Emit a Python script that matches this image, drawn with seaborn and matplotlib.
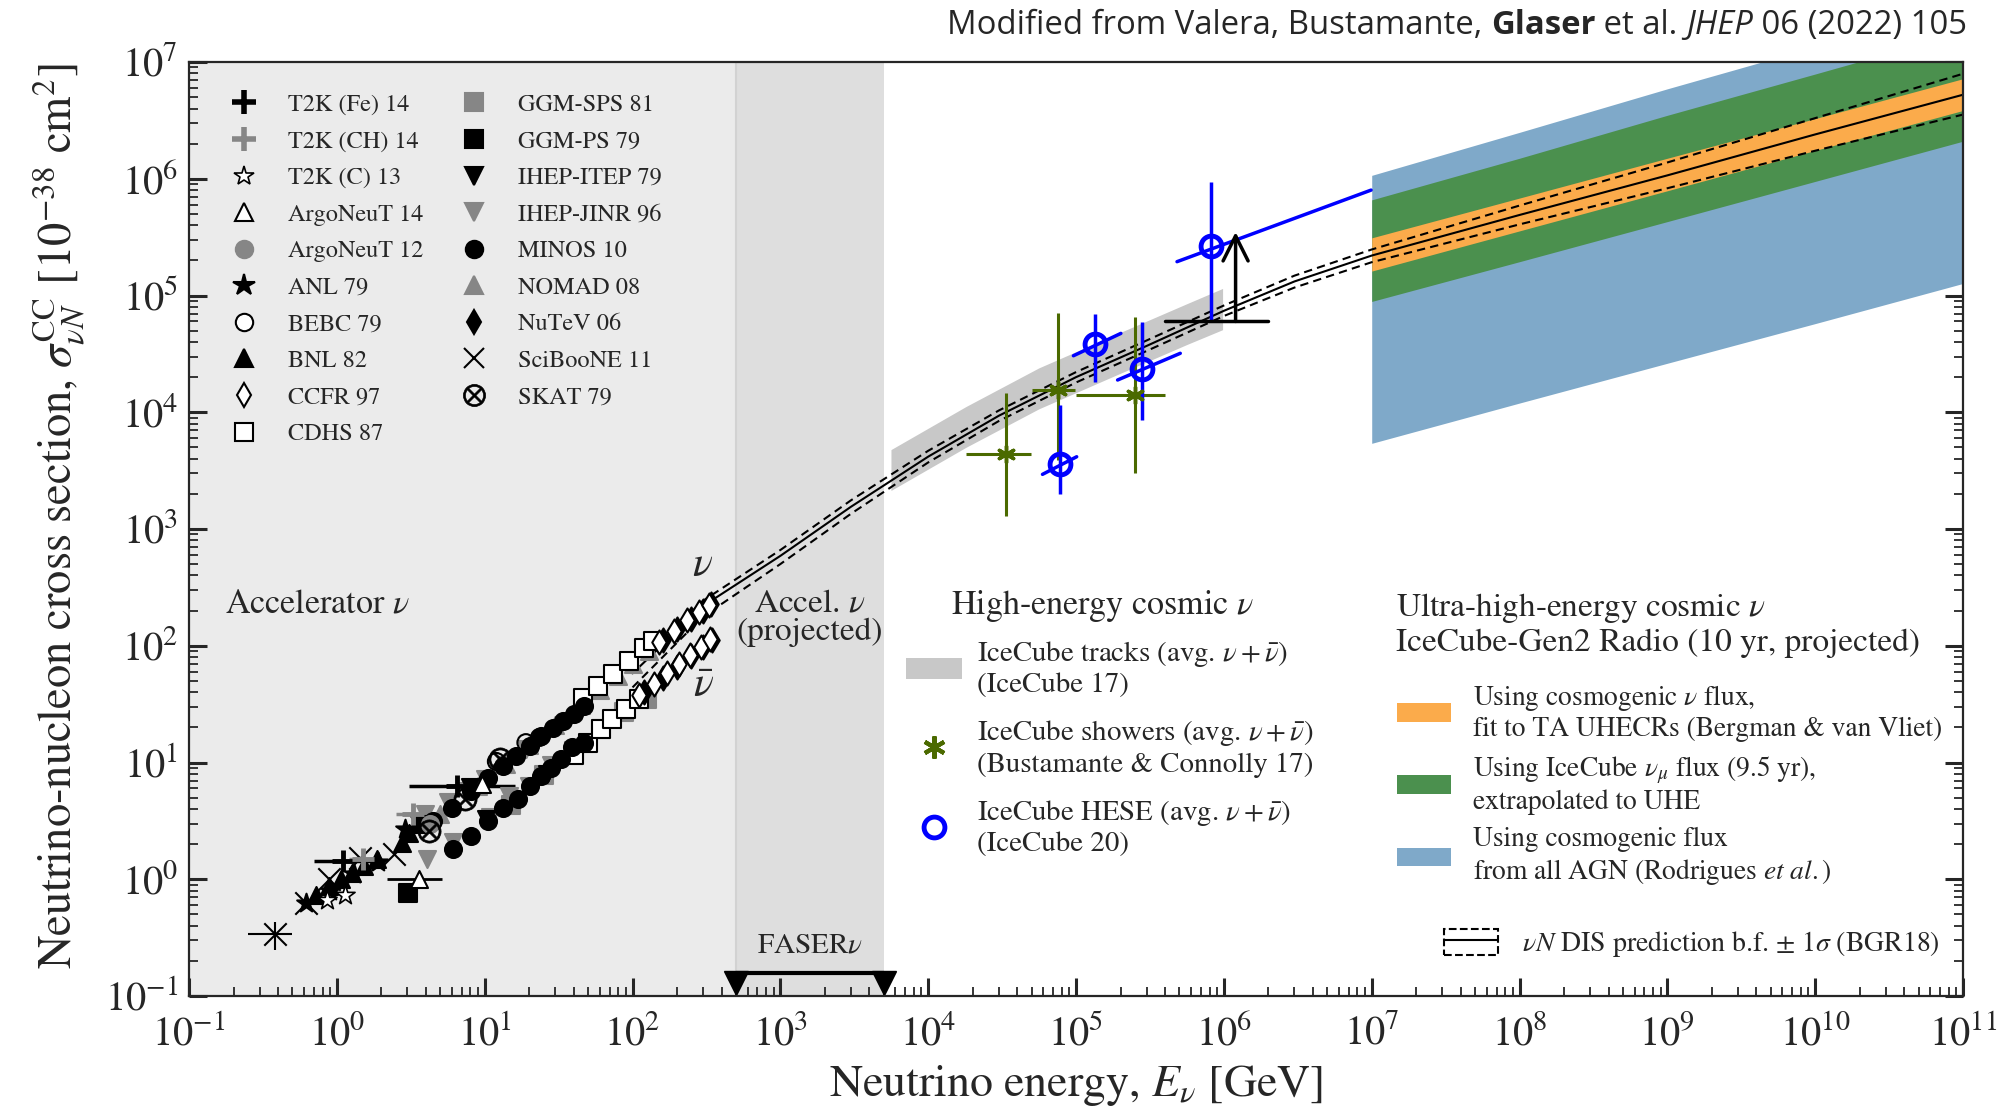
import numpy as np
import matplotlib
matplotlib.use('Agg')
import matplotlib.pyplot as plt
from matplotlib.lines import Line2D
from matplotlib.patches import Patch, Rectangle
from matplotlib.text import Annotation
from matplotlib.ticker import LogLocator
import seaborn as sns

sns.set_style('ticks')
plt.rcParams['font.family'] = ['STIXGeneral', 'DejaVu Serif']
plt.rcParams['mathtext.fontset'] = 'stix'

# ---------------- data: E [GeV], sigma [1e-38 cm^2] ----------------
# accelerator measurements (nu branch and nubar branch)
t2k_fe_E = [1.1, 6.5]
t2k_fe_s = [1.44, 6.3]
t2k_fe_xlo = [0.7, 3.1]
t2k_fe_xhi = [1.7, 16.0]
t2k_ch_E = [1.5, 3.3]
t2k_ch_s = [1.5, 3.6]
t2k_ch_xlo = [1.2, 2.5]
t2k_ch_xhi = [1.9, 4.4]
t2k_c_E = [0.86, 1.13]
t2k_c_s = [0.67, 0.74]
argo14_E = [3.6, 9.6]
argo14_s = [1.0, 6.6]
argo12_E = [4.3]
argo12_s = [3.0]
anl_E = [0.62, 0.9, 1.3, 1.9, 2.9]
anl_s = [0.63, 0.8, 1.1, 1.4, 2.7]
bebc_E = [12.0, 19.0, 23.5]
bebc_s = [10.2, 14.8, 16.4]
bnl_E = [0.72, 0.89, 1.06, 1.27, 1.52, 1.87, 2.75, 3.1, 3.5]
bnl_s = [0.74, 0.88, 1.0, 1.14, 1.3, 1.48, 2.06, 2.5, 2.96]
ccfr_E = [150, 190, 235, 280, 330, 110, 140, 170, 205, 245, 290, 335]
ccfr_s = [108, 135, 165, 195, 225, 38, 47, 58, 70, 84, 98, 114]
cdhs_E = [46, 58, 74, 95, 120, 138, 40, 50, 61, 73, 90, 110]
cdhs_s = [36, 45, 57, 74, 95, 110, 11.5, 14.8, 19.5, 23.5, 28.5, 35]
ggm_sps_E = [61, 87, 125, 15, 25, 40]
ggm_sps_s = [19.5, 27, 35, 4.3, 7.8, 12.5]
ggm_ps_E = [3.05]
ggm_ps_s = [0.77]
ihep_itep_E = [3.6, 8.0, 10.2, 26.5]
ihep_itep_s = [3.0, 6.2, 3.3, 8.0]
ihep_jinr_E = [3.94, 5.63, 7.6, 10.0, 14.0, 19.0, 4.06, 6.15, 10.8, 14.6, 20.0, 28.0]
ihep_jinr_s = [3.6, 4.6, 5.7, 7.2, 9.5, 13.0, 1.48, 2.1, 3.4, 5.2, 6.3, 9.5]
minos_E = [4.44, 5.97, 8.05, 10.5, 13.3, 16.4, 20.3, 24.2, 29.0, 33.7, 40.2, 46.7,
           6.15, 8.05, 10.5, 13.3, 16.9, 20.3, 24.2, 28.1, 32.7, 39.0, 46.7]
minos_s = [3.16, 4.11, 5.71, 7.43, 9.35, 11.4, 13.9, 16.9, 19.9, 22.8, 25.9, 30.6,
           1.81, 2.35, 3.16, 4.11, 4.85, 6.31, 7.69, 9.06, 10.7, 13.5, 14.8]
nomad_E = [5.0, 9.0, 14.0, 20.0, 30.0, 45.0, 60.0, 80.0, 100.0, 130.0]
nomad_s = [3.6, 6.3, 9.8, 14.0, 21.0, 31.0, 42.0, 55.0, 70.0, 90.0]
nutev_E = [160, 200, 250, 300, 340, 120, 160, 200, 250, 300, 345]
nutev_s = [112, 140, 170, 200, 228, 40, 53, 66, 82, 98, 112]
sciboone_E = [0.38, 0.62, 0.89, 1.43, 2.45]
sciboone_s = [0.34, 0.63, 1.0, 1.53, 1.64]
skat_E = [4.17, 7.4, 12.6]
skat_s = [2.6, 4.85, 10.7]

# BGR18 DIS prediction (best fit and 1 sigma)
dis_E = [1e2, 3e2, 1e3, 3e3, 1e4, 3e4, 1e5, 3e5, 1e6, 3e6, 1e7, 1e8, 1e9, 1e10, 1e11]
dis_mid = [58, 219, 589, 1550, 4170, 9330, 2.0e4, 3.7e4, 7.4e4, 1.32e5, 2.2e5, 4.9e5, 1.07e6, 2.4e6, 5.25e6]
dis_hi = [63, 243, 661, 1760, 4680, 1.035e4, 2.21e4, 4.12e4, 8.22e4, 1.48e5, 2.48e5, 5.9e5, 1.38e6, 3.31e6, 7.94e6]
dis_lo = [44, 178, 501, 1350, 3720, 8410, 1.8e4, 3.35e4, 6.68e4, 1.17e5, 1.93e5, 4.07e5, 8.3e5, 1.74e6, 3.55e6]

# IceCube tracks (band)
tracks_E = [5600, 1.8e4, 5.6e4, 1.8e5, 5.6e5, 9.8e5]
tracks_lo = [2140, 5010, 1.07e4, 2.04e4, 3.8e4, 5.1e4]
tracks_hi = [4790, 1.12e4, 2.4e4, 4.57e4, 8.5e4, 1.15e5]

# IceCube showers
shw_E = [3.37e4, 7.5e4, 2.5e5]
shw_s = [4.37e3, 1.55e4, 1.4e4]
shw_xlo = [1.79e4, 5.0e4, 1.0e5]
shw_xhi = [4.94e4, 9.9e4, 4.0e5]
shw_ylo = [1.29e3, 3.9e3, 3.0e3]
shw_yhi = [1.45e4, 7.1e4, 6.5e4]

# IceCube HESE (slanted energy error bars)
hese_E = [7.8e4, 1.35e5, 2.8e5, 8.2e5]
hese_s = [3.6e3, 3.85e4, 2.35e4, 2.65e5]
hese_ylo = [1.98e3, 1.83e4, 8.6e3, 6.2e4]
hese_yhi = [1.15e4, 6.9e4, 5.9e4, 9.3e5]
hese_xE_lo = [5.93e4, 9.6e4, 1.91e5, 4.82e5]
hese_xs_lo = [2.94e3, 3.05e4, 1.89e4, 1.95e5]
hese_xE_hi = [1.01e5, 2.01e5, 5.07e5, 9.9e6]
hese_xs_hi = [4.16e3, 4.74e4, 3.2e4, 8.0e5]

# lower limit
lim_E = [4.0e5, 1.98e6]
lim_s = 6.0e4
lim_arrow_E = 1.2e6
lim_arrow_top = 3.5e5

# IceCube-Gen2 radio projections
uhe_E = [1e7, 1e8, 1e9, 1e10, 1e11]
blue_lo = [5420, 1.2e4, 2.63e4, 5.75e4, 1.27e5]
blue_hi = [1.07e6, 2.5e6, 5.9e6, 1.35e7, 3.2e7]
green_lo = [8.9e4, 1.95e5, 4.3e5, 9.5e5, 2.1e6]
green_hi = [6.6e5, 1.5e6, 3.5e6, 7.9e6, 1.8e7]
orange_lo = [1.62e5, 3.58e5, 7.9e5, 1.75e6, 3.85e6]
orange_hi = [3.12e5, 6.84e5, 1.5e6, 3.28e6, 7.2e6]

faser_E = [500, 5000]

# ---------------- figure ----------------
fig = plt.figure(figsize=(20.16, 11.10), dpi=100)
ax = fig.add_axes([0.09375, 0.1027, 0.88, 0.8414])
ax.set_xscale('log')
ax.set_yscale('log')
ax.set_xlim(1e-1, 1e11)
ax.set_ylim(1e-1, 1e7)

ax.axvspan(1e-1, 500, color='#ebebeb', lw=0, zorder=0)
ax.axvspan(500, 5000, color='#dedede', lw=0, zorder=0)
ax.axvline(500, color='#d2d2d2', lw=1.5, zorder=0)

# UHE bands
ax.fill_between(uhe_E, blue_lo, blue_hi, color='#7fa9c9', lw=0, zorder=1)
ax.fill_between(uhe_E, green_lo, green_hi, color='#4b904e', lw=0, zorder=1)
ax.fill_between(uhe_E, orange_lo, orange_hi, color='#fbab4b', lw=0, zorder=1)
ax.fill_between(tracks_E, tracks_lo, tracks_hi, color='#c8c8c8', lw=0, zorder=1)

# DIS prediction
sns.lineplot(x=dis_E, y=dis_mid, color='black', lw=1.5, ax=ax, zorder=3)
sns.lineplot(x=dis_E, y=dis_hi, color='black', lw=1.5, linestyle=(0, (4, 2.5)), ax=ax, zorder=3)
sns.lineplot(x=dis_E, y=dis_lo, color='black', lw=1.5, linestyle=(0, (4, 2.5)), ax=ax, zorder=3)

# accelerator data
MS = 150
GREY = '#868686'
ax.errorbar(t2k_fe_E, t2k_fe_s, xerr=[np.subtract(t2k_fe_E, t2k_fe_xlo), np.subtract(t2k_fe_xhi, t2k_fe_E)],
            fmt='none', ecolor='black', elinewidth=2.5, zorder=4)
ax.errorbar(t2k_ch_E, t2k_ch_s, xerr=[np.subtract(t2k_ch_E, t2k_ch_xlo), np.subtract(t2k_ch_xhi, t2k_ch_E)],
            fmt='none', ecolor=GREY, elinewidth=2.5, zorder=4)
ax.errorbar([0.38], [0.34], xerr=[[0.13], [0.12]], yerr=[[0.09], [0.09]],
            fmt='none', ecolor='black', elinewidth=1.5, zorder=4)
ax.errorbar([3.6], [1.0], xerr=[[1.43], [1.55]], fmt='none', ecolor='black', elinewidth=2, zorder=4)


def dots(E, s, marker, face, edge='black', size=MS, lw=1.5):
    sns.scatterplot(x=E, y=s, marker=marker, color=face, edgecolor=edge, s=size,
                    linewidth=lw, ax=ax, zorder=5, legend=False)


dots(nomad_E, nomad_s, '^', GREY, GREY)
dots(ihep_jinr_E, ihep_jinr_s, 'v', GREY, GREY)
dots(ggm_sps_E, ggm_sps_s, 's', GREY, GREY)
dots(cdhs_E, cdhs_s, 's', 'white')
dots(nutev_E, nutev_s, 'd', 'black')
dots(ccfr_E, ccfr_s, 'd', 'white')
dots(minos_E, minos_s, 'o', 'black')
dots(ihep_itep_E, ihep_itep_s, 'v', 'black')
dots(ggm_ps_E, ggm_ps_s, 's', 'black')
dots(bnl_E, bnl_s, '^', 'black')
dots(anl_E, anl_s, '*', 'black', size=200)
dots(bebc_E, bebc_s, 'o', 'none')
dots(argo12_E, argo12_s, 'o', GREY, GREY)
dots(argo14_E, argo14_s, '^', 'white')
dots(t2k_c_E, t2k_c_s, '*', 'white', size=210, lw=1.2)
dots(skat_E, skat_s, r'$\otimes$', 'black', 'black', size=280, lw=0.5)
sns.scatterplot(x=sciboone_E, y=sciboone_s, marker='x', color='black', s=260, linewidth=1.5,
                ax=ax, zorder=5, legend=False)
sns.scatterplot(x=t2k_fe_E, y=t2k_fe_s, marker='+', color='black', s=260, linewidth=3.5,
                ax=ax, zorder=5, legend=False)
sns.scatterplot(x=t2k_ch_E, y=t2k_ch_s, marker='+', color=GREY, s=260, linewidth=3.5,
                ax=ax, zorder=5, legend=False)

# IceCube showers
SHW = '#4b6a00'
ax.errorbar(shw_E, shw_s, xerr=[np.subtract(shw_E, shw_xlo), np.subtract(shw_xhi, shw_E)],
            yerr=[np.subtract(shw_s, shw_ylo), np.subtract(shw_yhi, shw_s)],
            fmt='none', ecolor=SHW, elinewidth=2.2, zorder=4)
sns.scatterplot(x=shw_E, y=shw_s, marker=(6, 2, 0), color=SHW, s=140, linewidth=2.5,
                ax=ax, zorder=5, legend=False)

# IceCube HESE
HESE = '#0000ff'
ax.errorbar(hese_E, hese_s, yerr=[np.subtract(hese_s, hese_ylo), np.subtract(hese_yhi, hese_s)],
            fmt='none', ecolor=HESE, elinewidth=2.5, zorder=4)
for i in range(len(hese_E)):
    ax.plot([hese_xE_lo[i], hese_xE_hi[i]], [hese_xs_lo[i], hese_xs_hi[i]], color=HESE, lw=2.5, zorder=4)
ax.plot(hese_E, hese_s, 'o', ms=15, mfc='none', mec=HESE, mew=3.5, zorder=5)

# lower limit
ax.plot(lim_E, [lim_s, lim_s], color='black', lw=2.5, zorder=4)
ax.annotate('', xy=(lim_arrow_E, lim_arrow_top), xytext=(lim_arrow_E, lim_s),
            arrowprops=dict(arrowstyle='->', lw=2.5, color='black', mutation_scale=45,
                            shrinkA=0, shrinkB=0), zorder=4)

# FASERnu
ax.plot(faser_E, [0.157, 0.157], color='black', lw=3, zorder=4)
ax.plot(faser_E, [0.128, 0.128], 'v', color='black', ms=17, clip_on=False, zorder=6)

# ---------------- axes styling ----------------
ax.xaxis.set_major_locator(LogLocator(base=10, numticks=30))
ax.xaxis.set_minor_locator(LogLocator(base=10, subs=np.arange(2, 10), numticks=30))
ax.yaxis.set_major_locator(LogLocator(base=10, numticks=30))
ax.yaxis.set_minor_locator(LogLocator(base=10, subs=np.arange(2, 10), numticks=30))
ax.tick_params(which='major', direction='in', length=13, width=2.2, labelsize=29,
               right=True, top=False)
ax.tick_params(axis='x', which='major', pad=14)
ax.tick_params(axis='y', which='major', pad=8)
ax.tick_params(which='minor', direction='in', length=6.5, width=1.3, right=True, top=False)
for sp in ax.spines.values():
    sp.set_linewidth(1.6)
    sp.set_zorder(7)

ax.set_xlabel(r'Neutrino energy, $E_\nu$ [GeV]', fontsize=33, labelpad=6)
ax.set_ylabel(r'Neutrino-nucleon cross section, $\sigma_{\nu N}^{\rm CC}$ [$10^{-38}$ cm$^2$]',
              fontsize=33.5, labelpad=13)
ax.yaxis.label.set_y(0.514)

# ---------------- texts ----------------
ax.text(0.175, 223, r'Accelerator $\nu$', fontsize=24.5, ha='left', va='center')
ax.text(1581, 173, 'Accel. $\\nu$\n(projected)', fontsize=24, ha='center', va='center', linespacing=0.95)
ax.text(1581, 0.27, r'FASER$\nu$', fontsize=21, ha='center', va='center')
ax.text(296, 482, r'$\nu$', fontsize=30, ha='center', va='center')
ax.text(300, 44, r'$\bar{\nu}$', fontsize=30, ha='center', va='center')
ax.text(1.43e4, 221, r'High-energy cosmic $\nu$', fontsize=24.5, ha='left', va='center')
ax.text(1.45e7, 152, 'Ultra-high-energy cosmic $\\nu$\nIceCube-Gen2 Radio (10 yr, projected)',
        fontsize=24, ha='left', va='center', linespacing=1.2)


# left legend (accelerator experiments)
def mk(marker, face, edge='black', ms=12.5, mew=1.5):
    return Line2D([], [], ls='none', marker=marker, mfc=face, mec=edge, ms=ms, mew=mew)


acc_handles = [
    mk('+', 'black', 'black', 17, 4), mk('+', GREY, GREY, 17, 4), mk('*', 'white', 'black', 15, 1.2),
    mk('^', 'white'), mk('o', GREY, GREY), mk('*', 'black', 'black', 16),
    mk('o', 'white'), mk('^', 'black'), mk('d', 'white'), mk('s', 'white'),
    mk('s', GREY, GREY), mk('s', 'black'), mk('v', 'black'), mk('v', GREY, GREY),
    mk('o', 'black'), mk('^', GREY, GREY), mk('d', 'black'), mk('x', 'black', 'black', 14, 1.5),
    mk(r'$\otimes$', 'black', 'black', 16, 0.5),
]
acc_labels = ['T2K (Fe) 14', 'T2K (CH) 14', 'T2K (C) 13', 'ArgoNeuT 14', 'ArgoNeuT 12', 'ANL 79',
              'BEBC 79', 'BNL 82', 'CCFR 97', 'CDHS 87', 'GGM-SPS 81', 'GGM-PS 79',
              'IHEP-ITEP 79', 'IHEP-JINR 96', 'MINOS 10', 'NOMAD 08', 'NuTeV 06',
              'SciBooNE 11', 'SKAT 79']
leg1 = ax.legend(acc_handles, acc_labels, ncol=2, loc='upper left', bbox_to_anchor=(0.0228, 0.966),
                 frameon=False, fontsize=17.5, borderpad=0, borderaxespad=0, labelspacing=0.6,
                 handlelength=1.2, handletextpad=1.2, columnspacing=1.5)
ax.add_artist(leg1)

he_handles = [Patch(facecolor='#c8c8c8', edgecolor='none'),
              Line2D([], [], ls='none', marker=(6, 2, 0), color=SHW, ms=16, mew=3),
              Line2D([], [], ls='none', marker='o', mfc='none', mec=HESE, ms=15, mew=3.5)]
he_labels = ['IceCube tracks (avg. $\\nu+\\bar{\\nu}$)\n(IceCube 17)',
             'IceCube showers (avg. $\\nu+\\bar{\\nu}$)\n(Bustamante & Connolly 17)',
             'IceCube HESE (avg. $\\nu+\\bar{\\nu}$)\n(IceCube 20)']
leg2 = ax.legend(he_handles, he_labels, loc='upper left', bbox_to_anchor=(0.404, 0.382),
                 frameon=False, fontsize=20.8, borderpad=0, borderaxespad=0, labelspacing=0.7,
                 handlelength=1.95, handleheight=0.75, handletextpad=0.5)
ax.add_artist(leg2)

uhe_handles = [Patch(facecolor='#fbab4b', edgecolor='none'),
               Patch(facecolor='#4b904e', edgecolor='none'),
               Patch(facecolor='#7fa9c9', edgecolor='none')]
uhe_labels = ['Using cosmogenic $\\nu$ flux,\nfit to TA UHECRs (Bergman & van Vliet)',
              'Using IceCube $\\nu_\\mu$ flux (9.5 yr),\nextrapolated to UHE',
              'Using cosmogenic flux\nfrom all AGN (Rodrigues $et\\ al.$)']
leg3 = ax.legend(uhe_handles, uhe_labels, loc='upper left', bbox_to_anchor=(0.681, 0.335),
                 frameon=False, fontsize=19.8, borderpad=0, borderaxespad=0, labelspacing=0.44,
                 handlelength=1.95, handleheight=0.65, handletextpad=0.8)
ax.add_artist(leg3)

dis_handle = (Rectangle((0, 0), 1, 1, facecolor='none', edgecolor='black', linestyle='--', lw=1.5),
              Line2D([], [], color='black', lw=1.5))
ax.legend([dis_handle], [r'$\nu N$ DIS prediction b.f. $\pm\ 1\sigma$ (BGR18)'], loc='center left',
          bbox_to_anchor=(0.7075, 0.0557), frameon=False, fontsize=20, borderpad=0, borderaxespad=0,
          handlelength=1.95, handleheight=1.05, handletextpad=0.85)

# credit line, built right to left
pieces = [(' 06 (2022) 105', 'normal', 'normal'), ('JHEP', 'normal', 'italic'),
          (' et al. ', 'normal', 'normal'), ('Glaser', 'bold', 'normal'),
          ('Modified from Valera, Bustamante, ', 'normal', 'normal')]
last = None
for txt, wt, st in pieces:
    kw = dict(fontsize=23.7, family='Open Sans', fontweight=wt, fontstyle=st, ha='right')
    if last is None:
        last = fig.text(0.9757, 0.969, txt, va='baseline', **kw)
    else:
        last = fig.add_artist(Annotation(txt, xy=(0, 0), xycoords=last, va='bottom', **kw))

fig.savefig('out.png', dpi=100)
